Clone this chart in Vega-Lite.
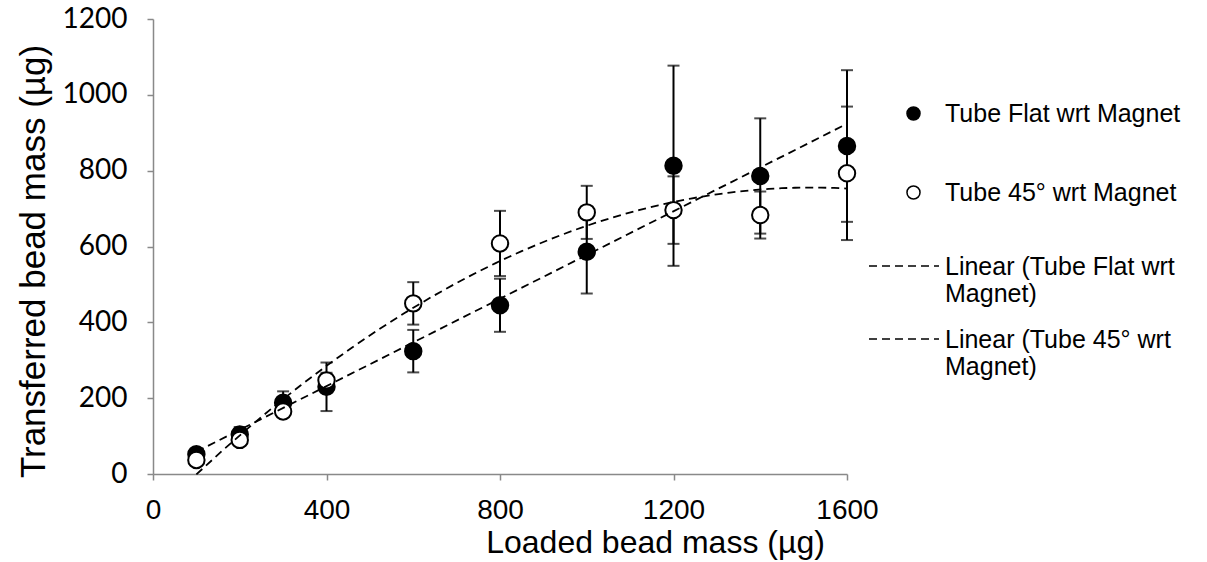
{
  "$schema": "https://vega.github.io/schema/vega-lite/v6.json",
  "width": 694,
  "height": 455,
  "autosize": "none",
  "padding": {"left": 153, "top": 19, "right": 360, "bottom": 88},
  "background": "white",
  "config": {
    "view": {"stroke": null},
    "axis": {
      "domainColor": "#898989",
      "domainWidth": 1.5,
      "tickColor": "#898989",
      "tickWidth": 1.5,
      "tickSize": 6,
      "grid": false,
      "labelColor": "black",
      "titleColor": "black",
      "titleFontWeight": "normal"
    }
  },
  "data": {
    "values": [
      {"x": 100, "y": 52, "err": 8, "series": "Tube Flat wrt Magnet", "trend": "Linear (Tube Flat wrt Magnet)"},
      {"x": 200, "y": 104, "err": 20, "series": "Tube Flat wrt Magnet", "trend": "Linear (Tube Flat wrt Magnet)"},
      {"x": 300, "y": 188, "err": 30, "series": "Tube Flat wrt Magnet", "trend": "Linear (Tube Flat wrt Magnet)"},
      {"x": 400, "y": 230, "err": 64, "series": "Tube Flat wrt Magnet", "trend": "Linear (Tube Flat wrt Magnet)"},
      {"x": 600, "y": 324, "err": 56, "series": "Tube Flat wrt Magnet", "trend": "Linear (Tube Flat wrt Magnet)"},
      {"x": 800, "y": 445, "err": 70, "series": "Tube Flat wrt Magnet", "trend": "Linear (Tube Flat wrt Magnet)"},
      {"x": 1000, "y": 586, "err": 110, "series": "Tube Flat wrt Magnet", "trend": "Linear (Tube Flat wrt Magnet)"},
      {"x": 1200, "y": 813, "err": 264, "series": "Tube Flat wrt Magnet", "trend": "Linear (Tube Flat wrt Magnet)"},
      {"x": 1400, "y": 786, "err": 152, "series": "Tube Flat wrt Magnet", "trend": "Linear (Tube Flat wrt Magnet)"},
      {"x": 1600, "y": 865, "err": 200, "series": "Tube Flat wrt Magnet", "trend": "Linear (Tube Flat wrt Magnet)"},
      {"x": 100, "y": 37, "err": 5, "series": "Tube 45° wrt Magnet", "trend": "Linear (Tube 45° wrt Magnet)"},
      {"x": 200, "y": 90, "err": 10, "series": "Tube 45° wrt Magnet", "trend": "Linear (Tube 45° wrt Magnet)"},
      {"x": 300, "y": 165, "err": 10, "series": "Tube 45° wrt Magnet", "trend": "Linear (Tube 45° wrt Magnet)"},
      {"x": 400, "y": 247, "err": 20, "series": "Tube 45° wrt Magnet", "trend": "Linear (Tube 45° wrt Magnet)"},
      {"x": 600, "y": 450, "err": 56, "series": "Tube 45° wrt Magnet", "trend": "Linear (Tube 45° wrt Magnet)"},
      {"x": 800, "y": 608, "err": 86, "series": "Tube 45° wrt Magnet", "trend": "Linear (Tube 45° wrt Magnet)"},
      {"x": 1000, "y": 690, "err": 70, "series": "Tube 45° wrt Magnet", "trend": "Linear (Tube 45° wrt Magnet)"},
      {"x": 1200, "y": 696, "err": 89, "series": "Tube 45° wrt Magnet", "trend": "Linear (Tube 45° wrt Magnet)"},
      {"x": 1400, "y": 683, "err": 62, "series": "Tube 45° wrt Magnet", "trend": "Linear (Tube 45° wrt Magnet)"},
      {"x": 1600, "y": 793, "err": 176, "series": "Tube 45° wrt Magnet", "trend": "Linear (Tube 45° wrt Magnet)"}
    ]
  },
  "encoding": {
    "x": {
      "field": "x", "type": "quantitative",
      "scale": {"domain": [0, 1600], "nice": false, "zero": false},
      "axis": {
        "values": [0, 400, 800, 1200, 1600],
        "format": "d",
        "title": "Loaded bead mass (µg)",
        "labelFont": "Liberation Sans", "labelFontSize": 28, "labelPadding": 16,
        "labelFlush": false,
        "titleFont": "Liberation Sans", "titleFontSize": 32,
        "titleX": 502, "titleY": 78, "titleAlign": "center", "titleBaseline": "alphabetic"
      }
    },
    "y": {
      "field": "y", "type": "quantitative",
      "scale": {"domain": [0, 1200], "nice": false},
      "axis": {
        "values": [0, 200, 400, 600, 800, 1000, 1200],
        "format": "d",
        "title": "Transferred bead mass (µg)",
        "labelFont": "Lato", "labelFontSize": 28, "labelPadding": 20,
        "labelFlush": false,
        "titleFont": "Liberation Sans", "titleFontSize": 35,
        "titleX": -109, "titleY": 242, "titleAlign": "center", "titleBaseline": "alphabetic", "titleAngle": 270
      }
    }
  },
  "layer": [
    {
      "mark": {"type": "errorbar", "ticks": {"size": 12, "thickness": 2, "color": "black"}, "thickness": 2, "color": "black"},
      "encoding": {
        "x": {"field": "x", "type": "quantitative"},
        "y": {"field": "y", "type": "quantitative"},
        "yError": {"field": "err"}
      }
    },
    {
      "mark": {"type": "point", "shape": "circle", "size": 270, "filled": true, "stroke": "black", "strokeWidth": 2, "opacity": 1},
      "encoding": {
        "fill": {
          "field": "series", "type": "nominal",
          "scale": {"domain": ["Tube Flat wrt Magnet", "Tube 45° wrt Magnet"], "range": ["black", "white"]},
          "legend": {
            "title": null, "orient": "none", "legendX": 748, "legendY": 82,
            "padding": 0, "symbolType": "circle", "symbolSize": 170,
            "symbolStrokeColor": "black", "symbolStrokeWidth": 1.5,
            "labelFont": "Liberation Sans", "labelFontSize": 25, "labelColor": "black",
            "labelOffset": 19, "rowPadding": 53, "labelLimit": 400
          }
        }
      }
    },
    {
      "transform": [
        {"filter": "datum.series == 'Tube Flat wrt Magnet'"},
        {"regression": "y", "on": "x", "method": "linear", "groupby": ["trend"]}
      ],
      "mark": {"type": "line", "stroke": "black", "strokeWidth": 1.8},
      "encoding": {
        "x": {"field": "x", "type": "quantitative"},
        "y": {"field": "y", "type": "quantitative"},
        "strokeDash": {
          "field": "trend", "type": "nominal",
          "scale": {"domain": ["Linear (Tube Flat wrt Magnet)", "Linear (Tube 45° wrt Magnet)"], "range": [[8, 5], [8, 5]]},
          "legend": {
            "title": null, "orient": "none", "legendX": 715, "legendY": 220,
            "padding": 0, "symbolType": "M-1,-0.26L1,-0.26", "symbolSize": 4900,
            "symbolStrokeColor": "black", "symbolStrokeWidth": 1.5, "symbolFillColor": "transparent",
            "labelFont": "Liberation Sans", "labelFontSize": 25, "labelColor": "black",
            "labelOffset": 5, "rowPadding": 5, "labelLimit": 400, "labelBaseline": "alphabetic",
            "labelExpr": "datum.label == 'Linear (Tube Flat wrt Magnet)' ? ['Linear (Tube Flat wrt', 'Magnet)'] : ['Linear (Tube 45° wrt', 'Magnet)']"
          }
        }
      }
    },
    {
      "transform": [
        {"filter": "datum.series == 'Tube 45° wrt Magnet'"},
        {"regression": "y", "on": "x", "method": "poly", "order": 2, "groupby": ["trend"]}
      ],
      "mark": {"type": "line", "stroke": "black", "strokeWidth": 1.8},
      "encoding": {
        "x": {"field": "x", "type": "quantitative"},
        "y": {"field": "y", "type": "quantitative"},
        "strokeDash": {"field": "trend", "type": "nominal"}
      }
    }
  ]
}
